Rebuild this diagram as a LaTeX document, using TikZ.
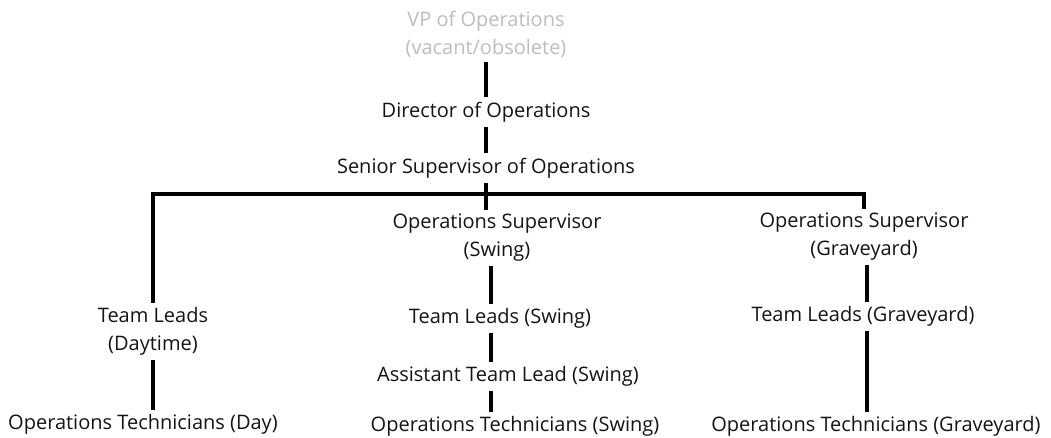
\documentclass[tikz,border=0pt]{standalone}
\usepackage{fontspec}
\setmainfont{Open Sans}
\usepackage{xcolor}
\usepackage{tikz}
\usetikzlibrary{positioning,calc}
\definecolor{vacant}{HTML}{BDBDBD}
\definecolor{ink}{HTML}{141414}

\begin{document}
\begin{tikzpicture}[x=1pt,y=-1pt, every node/.style={font=\fontsize{20}{28}\selectfont,align=center,text=ink},
  role/.style={inner sep=4.5pt,outer sep=0pt},
  tie/.style={draw=black,line width=3.4pt}]
  \useasboundingbox (0,0) rectangle (1051,438);
  \node[role,text=vacant] (vp) at (486,34) {VP of Operations\\(vacant/obsolete)};
  \node[role] (dir) at (486,112) {Director of Operations};
  \node[role] (ssup) at (486,168) {Senior Supervisor of Operations};
  \node[role] (sws) at (497,238) {Operations Supervisor\\(Swing)};
  \node[role] (sgy) at (864,237) {Operations Supervisor\\(Graveyard)};
  \node[role] (tld) at (153,331) {Team Leads\\(Daytime)};
  \node[role] (otd) at (143,424) {Operations Technicians (Day)};
  \node[role] (tls) at (500,318) {Team Leads (Swing)};
  \node[role] (ats) at (508,376) {Assistant Team Lead (Swing)};
  \node[role] (ots) at (515,426) {Operations Technicians (Swing)};
  \node[role] (tlg) at (863,316) {Team Leads (Graveyard)};
  \node[role] (otg) at (876,426) {Operations Technicians (Graveyard)};
  \coordinate (bus) at (486,194);
  \coordinate (midcol) at (491,0);
  \coordinate (rcol) at (867,0);
  \draw[tie] (vp) -- (dir); \draw[tie] (dir) -- (ssup);
  \draw[tie] (tld.north) |- (bus) -| (sgy.north);
  \draw[tie] (ssup.south) -- (ssup.south |- sws.north);
  \draw[tie] (tld.south) -- (tld.south |- otd.north);
  \draw[tie] (sws.south -| midcol) -- (tls.north -| midcol); \draw[tie] (tls.south -| midcol) -- (ats.north -| midcol); \draw[tie] (ats.south -| midcol) -- (ots.north -| midcol);
  \draw[tie] (sgy.south -| rcol) -- (tlg.north -| rcol); \draw[tie] (tlg.south -| rcol) -- (otg.north -| rcol);
\end{tikzpicture}
\end{document}
